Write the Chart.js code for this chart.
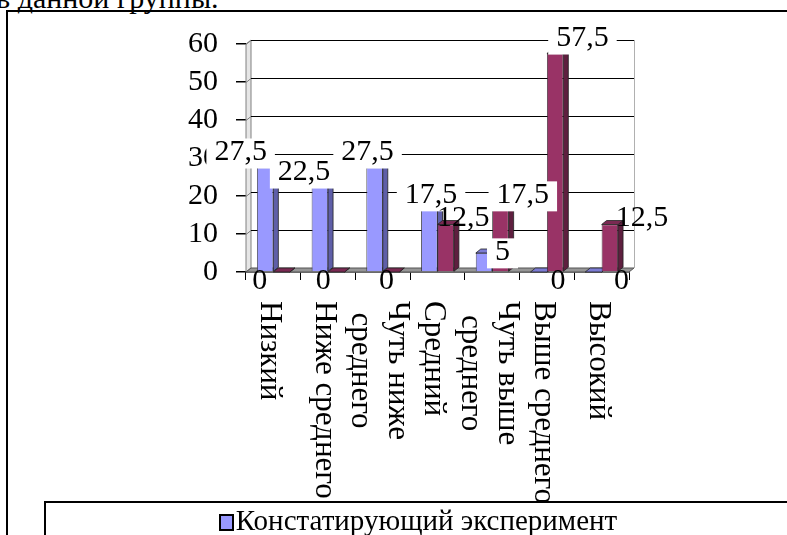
<!DOCTYPE html>
<html>
<head>
<meta charset="utf-8">
<script src="https://cdn.jsdelivr.net/npm/chart.js@4"></script>
<style>
  html, body { margin: 0; padding: 0; width: 787px; height: 535px; overflow: hidden; background: #fff;
    font-family: "Liberation Serif", "Times New Roman", serif; color: #000; }
  #caption { position: absolute; left: -4px; top: -17px; font-size: 30px; line-height: 30px; white-space: nowrap; }
  #frame { position: absolute; left: 6px; top: 10px; width: 800px; height: 600px; border: 2px solid #000; }
  #chart { position: absolute; left: 0; top: 0; }
  #legend { position: absolute; left: 44px; top: 501px; width: 744px; height: 80px; border: 2px solid #000; }
  #legend div { height: 34px; line-height: 34px; font-size: 29px; text-align: center; white-space: nowrap; }
  #legend span.mark { display: inline-block; width: 11px; height: 13px; border: 2px solid #000; margin-right: 2px; vertical-align: -1px; }
</style>
</head>
<body>
<div id="caption">в данной группы.</div>
<div id="frame"></div>
<canvas id="chart" width="787" height="535"></canvas>
<div id="legend"></div>
<script>
// --- data ---
const categories = [['Низкий'], ['Ниже среднего'], ['Чуть ниже', 'среднего'], ['Средний'], ['Чуть выше', 'среднего'], ['Выше среднего'], ['Высокий']];
const seriesNames = ['Констатирующий эксперимент', 'Контрольный эксперимент'];
const ascertaining = [27.5, 22.5, 27.5, 17.5, 5, 0, 0];
const control = [0, 0, 0, 12.5, 17.5, 57.5, 12.5];
const yTicks = [0, 10, 20, 30, 40, 50, 60];

const serif = '"Liberation Serif", "Times New Roman", serif';
const faces = [
    { front: '#9999FF', side: '#5F5FA8', top: '#7C7CD4' },
    { front: '#993366', side: '#5E1F3F', top: '#7A2952' }
];
const DX = 5, DY = 4; // depth of the 3D look

// --- legend (html) ---
const legendEl = document.getElementById('legend');
seriesNames.forEach((name, i) => {
    const row = document.createElement('div');
    const mark = document.createElement('span');
    mark.className = 'mark';
    mark.style.background = faces[i].front;
    row.appendChild(mark);
    row.appendChild(document.createTextNode(name));
    legendEl.appendChild(row);
});

function poly(ctx, pts, fill, stroke) {
    ctx.beginPath();
    ctx.moveTo(pts[0][0], pts[0][1]);
    for (let k = 1; k < pts.length; k++) ctx.lineTo(pts[k][0], pts[k][1]);
    ctx.closePath();
    if (fill) { ctx.fillStyle = fill; ctx.fill(); }
    if (stroke) { ctx.strokeStyle = stroke; ctx.stroke(); }
}

// walls, floor, and side/top faces of the bars
const box3d = {
    id: 'box3d',
    beforeDatasetsDraw(chart) {
        const { ctx, chartArea: a, scales: { y } } = chart;
        ctx.save();
        ctx.lineWidth = 1;

        // left wall
        poly(ctx, [[a.left, a.top], [a.left + DX, a.top - DY], [a.left + DX, a.bottom - DY], [a.left, a.bottom]], '#e6e6e6', '#808080');

        // back wall grid
        yTicks.forEach(t => {
            const py = Math.round(y.getPixelForValue(t)) + 0.5;
            ctx.strokeStyle = '#808080';
            ctx.beginPath(); ctx.moveTo(a.left, py); ctx.lineTo(a.left + DX, py - DY); ctx.stroke();
            if (t > 0) {
                ctx.strokeStyle = '#000';
                ctx.beginPath(); ctx.moveTo(a.left + DX, py - DY); ctx.lineTo(a.right + DX, py - DY); ctx.stroke();
            }
        });
        ctx.strokeStyle = '#b0b0b0';
        ctx.beginPath(); ctx.moveTo(a.right + DX + 0.5, a.top - DY); ctx.lineTo(a.right + DX + 0.5, a.bottom - DY); ctx.stroke();

        // floor
        poly(ctx, [[a.left, a.bottom], [a.right, a.bottom], [a.right + DX, a.bottom - DY], [a.left + DX, a.bottom - DY]], '#969696', '#555');

        // bar sides and tops
        ctx.lineWidth = 0.8;
        chart.data.datasets.forEach((ds, i) => {
            chart.getDatasetMeta(i).data.forEach(bar => {
                const x0 = bar.x - bar.width / 2, x1 = bar.x + bar.width / 2;
                poly(ctx, [[x1, bar.y], [x1 + DX, bar.y - DY], [x1 + DX, bar.base - DY], [x1, bar.base]], faces[i].side, '#222');
                poly(ctx, [[x0, bar.y], [x1, bar.y], [x1 + DX, bar.y - DY], [x0 + DX, bar.y - DY]], faces[i].top, '#222');
            });
        });
        ctx.restore();
    }
};

// value labels; white box unless the text sits on its own bar
const valueLabels = {
    id: 'valueLabels',
    afterDatasetsDraw(chart) {
        const { ctx, chartArea: a } = chart;
        const mid = a.left + (a.right - a.left) * 0.45;
        ctx.save();
        ctx.font = '30px ' + serif;
        ctx.textAlign = 'center';
        ctx.textBaseline = 'middle';
        chart.data.datasets.forEach((ds, i) => {
            chart.getDatasetMeta(i).data.forEach((bar, j) => {
                const v = ds.data[j];
                const txt = String(v).replace('.', ',');
                const w = ctx.measureText(txt).width;
                const h = bar.base - bar.y;
                let cx, cy;
                if (v === 0) {
                    cx = bar.x + 0.16 * (bar.x - mid);
                    cy = bar.base + 9;
                } else {
                    cx = i === 0 ? bar.x + 0.16 * (bar.x - mid) + (v < 10 ? 8 : 0)
                                 : bar.x + 0.09 * (bar.x - mid) + 15;
                    cy = bar.y + 3 - 0.2 * Math.min(h, 90);
                    const x0 = bar.x - bar.width / 2, x1 = bar.x + bar.width / 2;
                    const onBar = cx + w / 2 > x0 && cx - w / 2 < x1 && cy + 10 > bar.y;
                    if (!onBar) {
                        ctx.fillStyle = '#fff';
                        ctx.fillRect(cx - w / 2 - 8, cy - 14, w + 16, 30);
                    }
                }
                ctx.fillStyle = '#000';
                ctx.fillText(txt, cx, cy);
            });
        });
        ctx.restore();
    }
};

// category names, rotated clockwise
const categoryLabels = {
    id: 'categoryLabels',
    afterDraw(chart) {
        const { ctx, chartArea: a, scales: { x } } = chart;
        const lh = 37;
        ctx.save();
        ctx.font = '31px ' + serif;
        ctx.fillStyle = '#000';
        ctx.textAlign = 'center';
        ctx.textBaseline = 'middle';
        categories.forEach((lines, i) => {
            const w = Math.max(...lines.map(s => ctx.measureText(s).width));
            ctx.save();
            ctx.translate(x.getPixelForValue(i) - 4, a.bottom + 29 + w / 2);
            ctx.rotate(Math.PI / 2);
            lines.forEach((s, k) => ctx.fillText(s, 0, (k - (lines.length - 1) / 2) * lh));
            ctx.restore();
        });
        ctx.restore();
    }
};

new Chart(document.getElementById('chart'), {
    type: 'bar',
    data: {
        labels: categories,
        datasets: [
            { label: seriesNames[0], data: ascertaining, backgroundColor: faces[0].front, borderColor: '#222', borderWidth: 0.8 },
            { label: seriesNames[1], data: control, backgroundColor: faces[1].front, borderColor: '#222', borderWidth: 0.8 }
        ]
    },
    options: {
        responsive: false,
        animation: false,
        devicePixelRatio: 1,
        layout: { padding: { left: 0, top: 44, right: 158, bottom: 263 } },
        datasets: { bar: { categoryPercentage: 0.6, barPercentage: 1 } },
        plugins: { legend: { display: false }, tooltip: { enabled: false } },
        scales: {
            x: {
                ticks: { display: false },
                grid: { drawOnChartArea: false, drawTicks: true, tickLength: 8, color: '#000', offset: true },
                border: { color: '#000', width: 1.5 },
                afterFit: s => { s.height = 0; }
            },
            y: {
                min: 0,
                max: 60,
                afterBuildTicks: s => { s.ticks = yTicks.map(v => ({ value: v })); },
                ticks: { autoSkip: false, padding: 18, color: '#000', font: { family: serif, size: 30 } },
                grid: { drawOnChartArea: false, tickLength: 10, color: '#000', lineWidth: 1.5 },
                border: { color: '#808080' },
                afterFit: s => { s.width = 246; }
            }
        }
    },
    plugins: [box3d, valueLabels, categoryLabels]
});
</script>
</body>
</html>
